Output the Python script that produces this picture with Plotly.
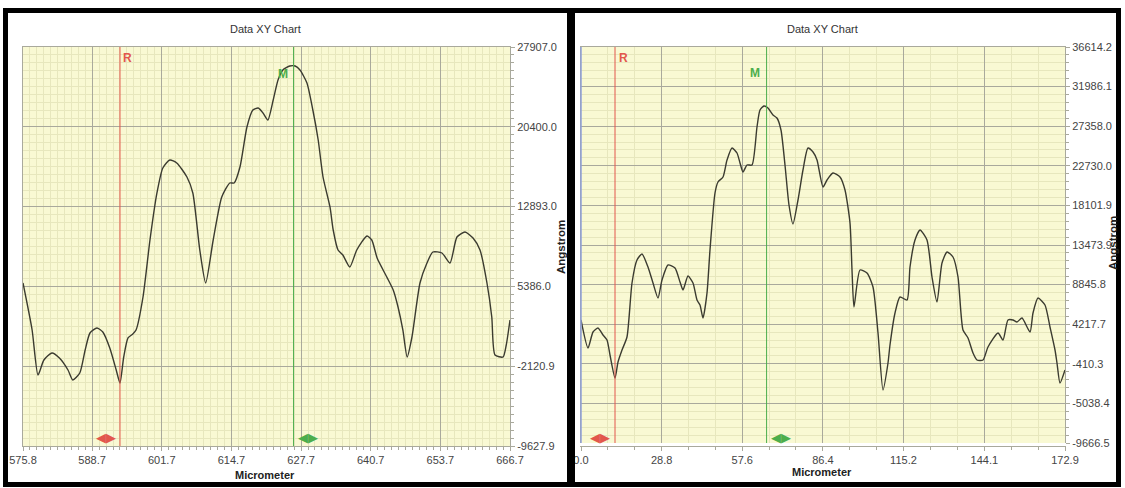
import numpy as np
import plotly.graph_objects as go

W, H = 1125, 488

# ---- profile 1 (Micrometer vs Angstrom) ----
left_x = [
    575.8, 577.5, 578.6, 579.7, 581.2, 582.6, 584.2, 585.1, 586.4, 587.4,
    588.3, 589.6, 590.7, 592.0, 593.2, 593.9, 594.6, 595.4, 596.3, 596.9,
    598.2, 599.5, 600.8, 601.9, 603.2, 604.5, 606.4, 607.5, 608.8, 609.9,
    611.3, 612.9, 614.4, 615.2, 616.3, 617.6, 618.7, 619.7, 620.6, 621.5,
    622.5, 623.4, 624.3, 625.6, 626.6, 627.5, 628.8, 629.9, 630.9, 631.8,
    633.1, 633.7, 634.6, 635.5, 636.8, 638.1, 640.0, 640.9, 641.9, 643.7,
    644.9, 645.8, 646.7, 647.5, 648.4, 649.9, 651.2, 652.3, 654.0, 655.5,
    656.8, 658.3, 659.8, 661.1, 662.4, 663.3, 663.9, 665.4, 666.0, 666.7,
]
left_y = [
    5706, 1285, -2948, -1537, -878, -1348, -2477, -3418, -2760, -596,
    1002, 1473, 1097, -408, -2477, -3700, -1255, 534, 909, 1285,
    4389, 9751, 14173, 16525, 17277, 16995, 15678, 14173, 8811, 5706,
    9751, 13797, 15114, 15114, 16619, 20381, 21980, 22169, 21698, 21040,
    22921, 24803, 25743, 26120, 26120, 25743, 24520, 21980, 19158, 15678,
    12856, 10692, 8811, 8340, 7211, 8811, 10128, 9751, 8058, 6271,
    5048, 3449, 1285, -1255, 626, 5706, 7587, 8622, 8528, 7587,
    10033, 10504, 9939, 8811, 5706, 2508, -1067, -1255, -126, 2226,
]
left_xticks = ["575.8", "588.7", "601.7", "614.7", "627.7", "640.7", "653.7", "666.7"]
left_yticks = ["-9627.9", "-2120.9", "5386.0", "12893.0", "20400.0", "27907.0"]
left_R = 593.9
left_M = 626.3

# ---- profile 2 ----
right_x = [
    0.0, 2.5, 4.29, 6.07, 7.86, 9.29, 10.36, 12.15, 13.22, 14.65,
    16.43, 18.22, 20.0, 21.79, 23.93, 25.72, 27.51, 28.94, 31.08, 33.58,
    35.37, 36.44, 38.22, 40.01, 41.44, 42.51, 43.58, 45.01, 46.08, 47.87,
    48.94, 50.73, 52.16, 53.94, 55.73, 56.80, 57.87, 59.30, 61.09, 62.87,
    63.94, 65.37, 66.80, 68.59, 70.0, 71.44, 72.87, 74.30, 75.73, 77.52,
    79.30, 81.09, 82.88, 84.31, 86.45, 87.88, 90.02, 92.52, 94.31, 96.10,
    96.81, 97.52, 99.67, 102.17, 104.31, 106.10, 107.88, 109.67, 110.38, 112.17,
    113.96, 116.46, 117.53, 119.32, 121.10, 123.60, 125.39, 127.17, 128.96, 130.75,
    132.89, 134.68, 136.46, 138.25, 140.04, 141.46, 143.61, 145.39, 148.97, 150.75,
    152.54, 154.32, 155.75, 157.54, 160.40, 161.47, 163.25, 165.75, 167.54, 169.33,
    170.04, 171.11, 172.9,
]
right_y = [
    4709, 1436, 3306, 3774, 2955, 2371, 618, -2070, -200, 1203,
    2722, 9033, 11721, 12422, 10903, 9033, 7280, 9383, 11136, 10786,
    9150, 8215, 9851, 9033, 7046, 6462, 4942, 7864, 12889, 19551,
    20837, 21421, 23400, 24810, 24226, 23057, 22005, 22823, 22823, 27264,
    29251, 29719, 29485, 28667, 28316, 26914, 22823, 18149, 15928, 18733,
    22239, 24810, 24343, 23408, 20252, 21070, 21888, 21421, 19902, 16045,
    10552, 6228, 10552, 10201, 8565, 3189, -3472, -317, 1787, 5527,
    7396, 7046, 10903, 14058, 15227, 14058, 9734, 6812, 11370, 12656,
    12071, 9734, 3540, 2605, 852, 34, 34, 1553, 3189, 2371,
    4709, 4709, 4475, 4942, 3306, 5527, 7280, 6462, 3890, 1203,
    -317, -2654, -1135,
]
right_xticks = ["0.0", "28.8", "57.6", "86.4", "115.2", "144.1", "172.9"]
right_yticks = ["-9666.5", "-5038.4", "-410.3", "4217.7", "8845.8", "13473.9",
                "18101.9", "22730.0", "27358.0", "31986.1", "36614.2"]
right_R = 12.15
right_M = 66.3

# ---- styling ----
PLOT_BG = "#f9f9d3"
MAJOR = "#a9a99c"
MINOR = "#e7e7bd"
NARROW = "Liberation Sans Narrow, Arial Narrow, Liberation Sans, Arial"
TICK_FONT = dict(family=NARROW, size=11, color="#444444")
LINE_COLOR = "#3b3b30"
RED = "#e2574c"
GREEN = "#4cae4c"


def px_x(p):
    return p / W


def px_y(p):
    return 1 - p / H


def minor_vals(labels, sub):
    vals = [float(v) for v in labels]
    out = []
    for a, b in zip(vals[:-1], vals[1:]):
        out.extend(np.linspace(a, b, sub + 1)[1:-1].tolist())
    return out


def x_axis(labels, dom, sub):
    vals = [float(v) for v in labels]
    return dict(
        domain=dom, range=[vals[0], vals[-1]], tickmode="array",
        tickvals=vals, ticktext=labels, showgrid=True, gridcolor=MAJOR,
        gridwidth=1, zeroline=False, showline=True, linecolor=MAJOR,
        mirror=True, ticks="outside", ticklen=4, tickcolor=MAJOR,
        tickfont=TICK_FONT, fixedrange=True, automargin=False,
        minor=dict(tickmode="array", tickvals=minor_vals(labels, sub),
                   showgrid=True, gridcolor=MINOR, gridwidth=1,
                   ticks="outside", ticklen=3, tickcolor=MAJOR),
    )


def y_axis(labels, dom, anchor, sub):
    vals = [float(v) for v in labels]
    return dict(
        domain=dom, range=[vals[0], vals[-1]], tickmode="array",
        tickvals=vals, ticktext=labels, side="right", anchor=anchor,
        showgrid=True, gridcolor=MAJOR, gridwidth=1, zeroline=False,
        showline=True, linecolor=MAJOR, mirror=True, ticks="outside",
        ticklen=4, tickcolor=MAJOR, tickfont=TICK_FONT, fixedrange=True,
        automargin=False,
        minor=dict(tickmode="array", tickvals=minor_vals(labels, sub),
                   showgrid=True, gridcolor=MINOR, gridwidth=1,
                   ticks="outside", ticklen=3, tickcolor=MAJOR),
    )


fig = go.Figure()
fig.add_trace(go.Scatter(x=left_x, y=left_y, mode="lines", xaxis="x", yaxis="y",
                         line=dict(color=LINE_COLOR, width=1.4, shape="spline", smoothing=0.6),
                         showlegend=False, hoverinfo="skip"))
fig.add_trace(go.Scatter(x=right_x, y=right_y, mode="lines", xaxis="x2", yaxis="y2",
                         line=dict(color=LINE_COLOR, width=1.4, shape="spline", smoothing=0.6),
                         showlegend=False, hoverinfo="skip"))

shapes = []
annotations = []

# panel frames
for x0, x1 in [(5.5, 569.5), (572.5, 1118.5)]:
    shapes.append(dict(type="rect", xref="paper", yref="paper",
                       x0=px_x(x0), x1=px_x(x1), y0=px_y(10.5), y1=px_y(484.5),
                       line=dict(color="black", width=5), fillcolor="rgba(0,0,0,0)"))

# bluish left edge of the second plot area
shapes.append(dict(type="line", xref="x2 domain", yref="y2 domain", x0=0, x1=0, y0=0, y1=1,
                   line=dict(color="#8f9fd8", width=1.5)))

# cursor lines, labels and handles
cursors = [
    ("x", left_R, "R", RED, 8, -14, 58),
    ("x", left_M, "M", GREEN, -11, 14, 74),
    ("x2", right_R, "R", RED, 8, -15, 58),
    ("x2", right_M, "M", GREEN, -12, 14, 73),
]
for xr, pos, txt, col, lab_shift, arrow_shift, lab_y in cursors:
    yd = "y domain" if xr == "x" else "y2 domain"
    shapes.append(dict(type="line", xref=xr, yref=yd, x0=pos, x1=pos, y0=0, y1=1,
                       line=dict(color=col, width=1)))
    annotations.append(dict(xref=xr, yref="paper", x=pos, y=px_y(lab_y), xshift=lab_shift,
                            xanchor="center", yanchor="middle",
                            text=f"<b>{txt}</b>", showarrow=False,
                            font=dict(family="Liberation Sans, Arial", size=12, color=col)))
    annotations.append(dict(xref=xr, yref="paper", x=pos, y=px_y(437), xshift=arrow_shift,
                            xanchor="center", yanchor="middle",
                            text="◀▶", showarrow=False,
                            font=dict(family="DejaVu Sans", size=13, color=col)))

# titles and axis names
for cx, ty, my in [(265, 29, 475), (822, 29, 472)]:
    annotations.append(dict(xref="paper", yref="paper", x=px_x(cx), y=px_y(ty),
                            xanchor="center", yanchor="middle",
                            text="Data XY Chart", showarrow=False,
                            font=dict(family="Liberation Sans, Arial", size=11, color="#333333")))
    annotations.append(dict(xref="paper", yref="paper", x=px_x(cx), y=px_y(my),
                            xanchor="center", yanchor="middle",
                            text="<b>Micrometer</b>", showarrow=False,
                            font=dict(family=NARROW, size=11, color="#222222")))
for ax, ay in [(561, 247), (1113, 243)]:
    annotations.append(dict(xref="paper", yref="paper", x=px_x(ax), y=px_y(ay),
                            xanchor="center", yanchor="middle",
                            text="<b>Angstrom</b>", showarrow=False, textangle=-90,
                            font=dict(family=NARROW, size=11.5, color="#222222")))

fig.update_layout(
    width=W, height=H, margin=dict(l=0, r=0, t=0, b=0),
    paper_bgcolor="white", plot_bgcolor=PLOT_BG,
    xaxis=x_axis(left_xticks, [px_x(23), px_x(510)], 10),
    yaxis=y_axis(left_yticks, [px_y(446), px_y(47)], "x", 10),
    xaxis2=x_axis(right_xticks, [px_x(581), px_x(1065)], 3),
    yaxis2=y_axis(right_yticks, [px_y(443), px_y(47)], "x2", 5),
    shapes=shapes, annotations=annotations,
)

fig.write_html("out.html")
